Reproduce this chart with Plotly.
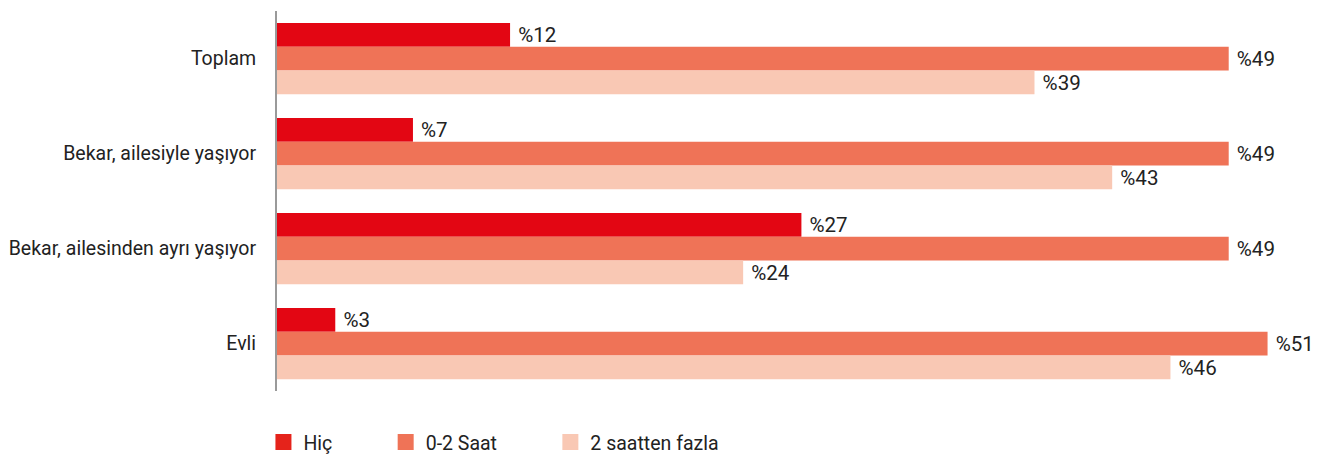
import plotly.graph_objects as go

categories = ["Toplam", "Bekar, ailesiyle yaşıyor", "Bekar, ailesinden ayrı yaşıyor", "Evli"]
series_names = ["Hiç", "0-2 Saat", "2 saatten fazla"]
hic = [12, 7, 27, 3]
saat_0_2 = [49, 49, 49, 51]
fazla_2 = [39, 43, 24, 46]
colors = ["#E30613", "#EF7357", "#F9C8B4"]
legend_colors = ["#E5231B", "#EF7357", "#F9C8B4"]
legend_pad = [10, 10, 0]

values = [hic, saat_0_2, fazla_2]
FONT = "Roboto, Arial, sans-serif"
TXT = "#222222"

fig = go.Figure()
for name, vals, col in zip(series_names, values, colors):
    fig.add_trace(go.Bar(
        y=categories, x=vals, orientation="h", name=name,
        marker=dict(color=col, line=dict(width=0)),
        text=[f"\u00a0%{v}" for v in vals],
        textposition="outside", cliponaxis=False,
        textfont=dict(family=FONT, size=22.5, color=TXT),
        showlegend=False, hoverinfo="x+y",
    ))
for name, col, pad in zip(series_names, legend_colors, legend_pad):
    fig.add_trace(go.Scatter(
        x=[None], y=[None], mode="markers", name=name + "\u00a0" * pad,
        marker=dict(symbol="square", size=16, color=col),
        showlegend=True, hoverinfo="skip",
    ))

fig.update_layout(
    width=1330, height=457,
    barmode="group", bargap=0.25, bargroupgap=0,
    plot_bgcolor="white", paper_bgcolor="white",
    margin=dict(l=277, r=10, t=11, b=66, autoexpand=False),
    font=dict(family=FONT, color=TXT, size=19),
    xaxis=dict(range=[0, 53.7], showgrid=False, zeroline=False, automargin=False,
               showticklabels=False, showline=False, fixedrange=True),
    yaxis=dict(autorange="reversed", showgrid=False, zeroline=False, automargin=False,
               showline=True, linecolor="#9a9a9a", linewidth=2,
               ticks="", ticklabelstandoff=15,
               tickfont=dict(family=FONT, size=19.5, color=TXT)),
    legend=dict(orientation="h", x=-0.013, xanchor="left", y=-0.135, yanchor="middle",
                font=dict(family=FONT, size=19.5, color=TXT),
                itemsizing="trace"),
)
fig.write_html(
    "out.html",
    config={"displayModeBar": False},
    post_script="document.body.style.margin='0';document.body.style.overflow='hidden';",
)
